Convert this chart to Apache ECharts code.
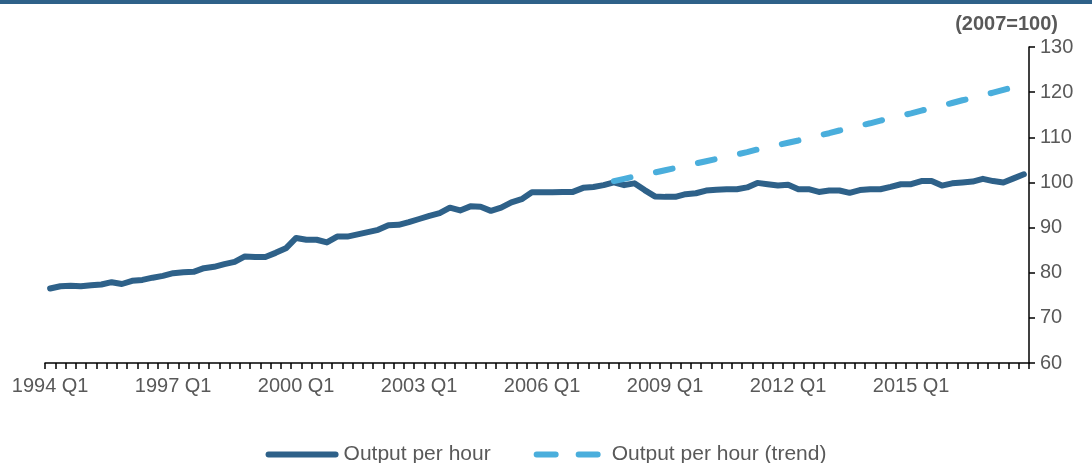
<!DOCTYPE html>
<html lang="en">
<head>
    <meta charset="UTF-8">
    <title>Output per hour</title>
    <script src="https://cdn.jsdelivr.net/npm/echarts@6/dist/echarts.min.js" type="text/javascript"></script>
    <style>
        html, body {
            margin: 0;
            padding: 0;
            width: 100%;
            height: 100%;
            background: #fff;
        }

        #main {
            width: 1092px;
            height: 463px;
        }
    </style>
</head>
<body>
<div id="main"></div>
<script type="text/javascript">
    // quarters 1994 Q1 .. 2017 Q4
    var years = [1994, 1995, 1996, 1997, 1998, 1999, 2000, 2001, 2002, 2003, 2004, 2005,
        2006, 2007, 2008, 2009, 2010, 2011, 2012, 2013, 2014, 2015, 2016, 2017]
    var quarters = ['Q1', 'Q2', 'Q3', 'Q4']

    // output per hour, index 2007=100
    var outputPerHour = [
        76.5, 77.0, 77.1, 77.0, 77.2, 77.4, 77.9, 77.5, 78.2, 78.4, 78.9, 79.3,
        79.9, 80.1, 80.2, 81.0, 81.3, 81.9, 82.4, 83.6, 83.5, 83.5, 84.4, 85.4,
        87.7, 87.3, 87.3, 86.7, 88.0, 88.0, 88.5, 89.0, 89.5, 90.5, 90.6, 91.2,
        91.9, 92.6, 93.2, 94.4, 93.8, 94.7, 94.6, 93.7, 94.4, 95.6, 96.3, 97.8,
        97.8, 97.8, 97.9, 97.9, 98.8, 99.0, 99.4, 100.0, 99.4, 99.8, 98.3, 96.9,
        96.8, 96.8, 97.4, 97.6, 98.2, 98.4, 98.5, 98.5, 98.9, 99.9, 99.6, 99.3,
        99.5, 98.5, 98.5, 97.9, 98.2, 98.2, 97.7, 98.3, 98.5, 98.5, 99.0, 99.6,
        99.6, 100.3, 100.3, 99.3, 99.8, 100.0, 100.2, 100.8, 100.3, 100.0, 100.9, 101.8
    ]

    // pre-crisis trend, from 2007 Q4 onwards
    var trendStart = 55
    var trendValues = [
        100.3, 100.8, 101.3, 101.7, 102.2, 102.7, 103.2, 103.7, 104.2, 104.7,
        105.2, 105.7, 106.2, 106.7, 107.3, 107.8, 108.3, 108.8, 109.3, 109.9,
        110.4, 110.9, 111.5, 112.0, 112.6, 113.1, 113.7, 114.2, 114.8, 115.3,
        115.9, 116.5, 117.0, 117.6, 118.2, 118.7, 119.3, 119.9, 120.5, 121.1,
        121.6
    ]

    var yTicks = {min: 60, max: 130, interval: 10}

    var categories = []
    years.forEach(y => {
        quarters.forEach(q => categories.push(y + ' ' + q))
    })

    var trend = categories.map((c, i) => i < trendStart ? null : trendValues[i - trendStart])

    var textColor = '#595959'
    var darkBlue = '#2e6189'
    var lightBlue = '#4aaedc'
    var font = "'Liberation Sans', Arial, sans-serif"

    // legend icons: a thick solid bar and two rounded dashes
    var solidIcon = 'path://M3,0 H70 A3,3 0 0 1 70,6 H3 A3,3 0 0 1 3,0 Z'
    var dashIcon = 'path://M3,0 H22 A3,3 0 0 1 22,6 H3 A3,3 0 0 1 3,0 Z ' +
        'M45,0 H64 A3,3 0 0 1 64,6 H45 A3,3 0 0 1 45,0 Z M72.9,3 L73,3 Z'

    var myChart = echarts.init(document.getElementById('main'))

    var option = {
        animation: false,
        textStyle: {fontFamily: font},
        graphic: [
            {
                type: 'rect',
                shape: {x: 0, y: 0, width: 1092, height: 4},
                style: {fill: darkBlue}
            },
            {
                type: 'text',
                right: 34,
                top: 14,
                style: {
                    text: '(2007=100)',
                    font: "bold 20px 'Liberation Sans', Arial, sans-serif",
                    fill: textColor
                }
            }
        ],
        grid: {
            left: 45,
            right: 63,
            top: 47,
            bottom: 100,
            containLabel: false,
            outerBoundsMode: 'none'
        },
        legend: {
            top: 439,
            left: 'center',
            itemWidth: 73,
            itemHeight: 6,
            itemGap: 43,
            textStyle: {fontSize: 21, color: textColor, fontFamily: font},
            data: [
                {name: 'Output per hour', icon: solidIcon},
                {name: 'Output per hour (trend)', icon: dashIcon}
            ]
        },
        xAxis: {
            type: 'category',
            data: categories,
            boundaryGap: true,
            axisLine: {show: true, lineStyle: {color: '#000', width: 1.5}},
            axisTick: {show: true, interval: 0, length: 6, lineStyle: {color: '#000', width: 1.5}},
            axisLabel: {interval: 11, fontSize: 20, color: textColor, margin: 13},
            splitLine: {show: false}
        },
        yAxis: {
            type: 'value',
            position: 'right',
            min: yTicks.min,
            max: yTicks.max,
            interval: yTicks.interval,
            axisLine: {show: true, lineStyle: {color: '#000', width: 1.5}},
            axisTick: {show: true, length: 6, lineStyle: {color: '#000', width: 1.5}},
            axisLabel: {fontSize: 20, color: textColor, margin: 11},
            splitLine: {show: false}
        },
        series: [
            {
                name: 'Output per hour',
                type: 'line',
                data: outputPerHour,
                showSymbol: false,
                symbol: 'none',
                lineStyle: {color: darkBlue, width: 6, cap: 'round', join: 'round'},
                itemStyle: {color: darkBlue}
            },
            {
                name: 'Output per hour (trend)',
                type: 'line',
                data: trend,
                showSymbol: false,
                symbol: 'none',
                lineStyle: {color: lightBlue, width: 6, type: [17, 26], cap: 'round'},
                itemStyle: {color: lightBlue}
            }
        ]
    }

    myChart.setOption(option)
</script>
</body>
</html>
